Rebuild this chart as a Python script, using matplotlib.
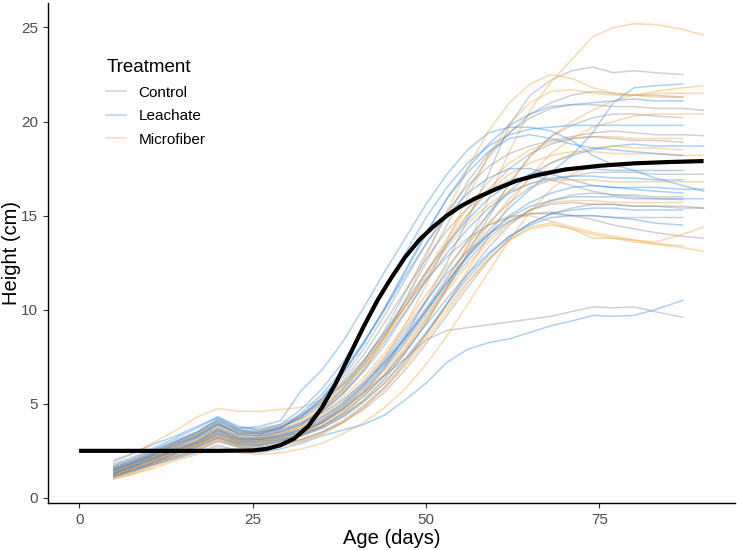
import matplotlib
matplotlib.use("Agg")
import matplotlib.pyplot as plt
from matplotlib.lines import Line2D

plt.rcParams['font.family'] = ['Liberation Sans', 'DejaVu Sans']

# measurement days (series of 28 values stop at day 87, 29 values at day 90)
days = [5, 8, 11, 14, 17, 20, 23, 26, 29, 32, 35, 38, 41, 44, 47, 50, 53, 56, 59,
        62, 65, 68, 71, 74, 77, 80, 83, 87, 90]

control = [
    [1.3, 1.7, 2.2, 2.5, 2.9, 3.5, 3.0, 3.1, 3.2, 3.5, 4.0, 4.7, 5.6, 6.9, 8.6, 10.5, 12.5, 14.8, 17.2, 19.8, 21.4, 22.2, 22.7, 22.9, 22.6, 22.7, 22.6, 22.5],
    [1.5, 1.9, 2.3, 2.9, 3.2, 3.9, 3.4, 3.3, 3.6, 4.0, 4.7, 5.7, 7.0, 8.6, 10.5, 12.5, 14.5, 16.4, 18.1, 19.4, 20.4, 21.0, 21.4, 21.6, 21.5, 21.4, 21.4, 21.3],
    [1.2, 1.6, 1.9, 2.4, 2.8, 3.3, 2.9, 3.0, 3.1, 3.3, 3.8, 4.4, 5.2, 6.3, 7.7, 9.3, 11.1, 13.0, 14.9, 16.7, 18.2, 19.2, 19.8, 20.2, 20.4, 20.4, 20.3, 20.2],
    [1.6, 2.0, 2.4, 3.0, 3.4, 4.1, 3.6, 3.6, 3.8, 4.3, 5.2, 6.4, 7.9, 9.7, 11.6, 13.5, 15.2, 16.6, 17.6, 18.3, 18.7, 19.0, 19.2, 19.4, 19.5, 19.4, 19.3, 19.3, 19.25],
    [1.4, 1.8, 2.2, 2.5, 3.0, 3.6, 3.2, 3.1, 3.4, 3.7, 4.3, 5.0, 6.0, 7.2, 8.6, 10.1, 11.7, 13.2, 14.6, 15.7, 16.5, 16.9, 17.1, 17.3, 17.3, 17.3, 17.2, 17.2, 17.2],
    [1.5, 1.9, 2.4, 2.9, 3.3, 3.9, 3.5, 3.4, 3.7, 4.3, 5.1, 6.2, 7.6, 9.3, 11.0, 12.7, 14.2, 15.4, 16.3, 16.9, 17.1, 16.9, 16.6, 16.3, 16.1, 16.0, 15.9, 15.85],
    [1.3, 1.7, 2.1, 2.6, 2.9, 3.4, 3.1, 3.0, 3.2, 3.5, 4.0, 4.7, 5.6, 6.8, 8.2, 9.7, 11.2, 12.6, 13.8, 14.7, 15.3, 15.6, 15.7, 15.6, 15.6, 15.5, 15.5, 15.5, 15.4],
    [1.2, 1.5, 1.9, 2.2, 2.6, 3.1, 2.8, 2.7, 2.8, 3.1, 3.5, 4.0, 4.7, 5.6, 6.8, 8.2, 9.7, 11.2, 12.6, 13.8, 14.6, 15.1, 15.4, 15.6, 15.6, 15.5, 15.5, 15.4, 15.4],
    [1.4, 1.8, 2.2, 2.7, 3.1, 3.7, 3.2, 3.2, 3.3, 3.7, 4.3, 5.1, 6.2, 7.5, 9.0, 10.5, 11.9, 13.1, 14.0, 14.7, 15.1, 15.2, 15.0, 14.8, 14.5, 14.3, 14.1, 13.9, 13.8],
    [1.3, 1.6, 2.0, 2.4, 2.7, 3.2, 2.9, 2.8, 3.0, 3.4, 4.0, 4.7, 5.6, 6.5, 7.4, 8.4, 8.9, 9.05, 9.2, 9.35, 9.5, 9.65, 9.9, 10.15, 10.1, 10.15, 9.9, 9.6],
    [1.5, 1.9, 2.3, 2.7, 3.2, 3.7, 3.3, 3.3, 3.5, 3.9, 4.6, 5.5, 6.7, 8.1, 9.8, 11.6, 13.4, 15.0, 16.4, 17.5, 18.3, 18.8, 19.1, 19.2, 19.1, 19.0, 19.0, 18.9],
    [1.1, 1.4, 1.8, 2.2, 2.5, 3.0, 2.7, 2.7, 2.9, 3.1, 3.5, 4.1, 4.9, 5.9, 7.2, 8.7, 10.3, 11.9, 13.3, 14.5, 15.3, 15.8, 16.1, 16.2, 16.1, 16.1, 16.0, 16.0],
    [1.7, 2.1, 2.6, 3.1, 3.5, 4.2, 3.7, 3.7, 3.9, 4.4, 5.1, 6.1, 7.3, 8.7, 10.2, 11.6, 12.8, 13.8, 14.5, 14.9, 15.1, 15.1, 15.0, 15.0, 14.9, 14.9, 14.9, 14.9],
    [1.3, 1.7, 2.1, 2.6, 3.0, 3.6, 3.1, 3.2, 3.5, 3.9, 4.7, 5.8, 7.2, 8.9, 10.9, 13.0, 15.0, 16.8, 18.3, 19.4, 20.2, 20.7, 20.9, 20.9, 20.8, 20.8, 20.7, 20.7, 20.6],
]

leachate = [
    [1.6, 2.0, 2.5, 3.0, 3.5, 4.2, 3.6, 3.4, 3.6, 4.0, 4.5, 5.2, 6.1, 7.2, 8.5, 9.9, 11.4, 12.9, 14.2, 15.4, 16.4, 17.3, 18.2, 19.4, 21.0, 21.8, 21.9, 22.0],
    [1.4, 1.8, 2.3, 2.8, 3.3, 4.0, 3.4, 3.5, 3.7, 4.4, 5.3, 6.6, 8.2, 10.0, 12.0, 14.0, 15.9, 17.5, 18.8, 19.8, 20.4, 20.8, 20.9, 21.0, 21.1, 21.2, 21.1, 21.1],
    [1.8, 2.2, 2.7, 3.2, 3.7, 4.3, 3.8, 3.6, 3.9, 4.7, 5.8, 7.2, 9.0, 11.0, 13.0, 14.9, 16.5, 17.8, 18.7, 19.3, 19.6, 19.7, 19.8, 19.8, 19.8, 19.8, 19.8, 19.8],
    [1.3, 1.7, 2.1, 2.5, 2.9, 3.5, 3.1, 3.1, 3.3, 3.6, 4.2, 5.0, 6.0, 7.3, 8.8, 10.4, 12.1, 13.7, 15.1, 16.3, 17.2, 17.8, 18.2, 18.5, 18.7, 18.8, 18.7, 18.7, 18.7],
    [2.0, 2.4, 2.9, 3.3, 3.8, 4.3, 3.7, 3.8, 4.1, 5.7, 6.8, 8.3, 10.1, 12.0, 13.8, 15.6, 17.2, 18.5, 19.4, 19.7, 19.7, 19.5, 19.0, 18.2, 17.7, 17.4, 17.0, 16.6, 16.3],
    [1.5, 1.9, 2.3, 2.7, 3.2, 3.8, 3.3, 3.3, 3.5, 3.9, 4.6, 5.6, 6.8, 8.3, 9.9, 11.5, 13.0, 14.3, 15.4, 16.2, 16.7, 17.0, 17.1, 17.1, 17.0, 17.0, 16.9, 16.9],
    [1.2, 1.6, 2.0, 2.4, 2.8, 3.4, 3.0, 3.0, 3.2, 3.5, 4.0, 4.8, 5.8, 7.0, 8.4, 9.9, 11.4, 12.8, 14.0, 15.0, 15.7, 16.2, 16.5, 16.6, 16.5, 16.5, 16.5, 16.4, 16.4],
    [1.6, 2.0, 2.5, 2.9, 3.4, 4.0, 3.5, 3.5, 3.7, 4.5, 5.5, 6.8, 8.3, 10.0, 11.8, 13.5, 15.0, 16.2, 17.0, 17.5, 17.5, 17.2, 16.9, 16.6, 16.5, 16.4, 16.3, 16.2],
    [1.4, 1.8, 2.2, 2.6, 3.0, 3.6, 3.2, 3.1, 3.3, 3.6, 4.1, 4.9, 5.9, 7.1, 8.5, 10.0, 11.5, 12.9, 14.0, 14.9, 15.5, 15.8, 16.0, 16.0, 16.0, 15.9, 15.9, 15.9, 15.9],
    [1.3, 1.7, 2.1, 2.5, 2.9, 3.4, 3.0, 2.9, 3.1, 3.4, 3.8, 4.5, 5.4, 6.5, 7.8, 9.2, 10.6, 11.9, 13.0, 13.9, 14.5, 14.9, 15.0, 15.0, 14.9, 14.8, 14.6, 14.5],
    [1.2, 1.5, 1.8, 2.1, 2.4, 2.8, 2.5, 2.4, 2.6, 2.9, 3.3, 3.6, 3.9, 4.4, 5.2, 6.1, 7.2, 7.9, 8.25, 8.45, 8.8, 9.15, 9.4, 9.7, 9.65, 9.7, 10.0, 10.5],
    [1.7, 2.1, 2.6, 3.0, 3.5, 4.1, 3.6, 3.5, 3.8, 4.2, 5.0, 6.0, 7.3, 8.8, 10.4, 12.0, 13.5, 14.8, 15.9, 16.7, 17.2, 17.4, 17.5, 17.5, 17.4, 17.4, 17.4, 17.4],
    [1.1, 1.5, 1.9, 2.3, 2.7, 3.2, 2.8, 2.8, 3.0, 3.3, 3.7, 4.3, 5.1, 6.1, 7.4, 8.8, 10.3, 11.7, 12.9, 13.9, 14.6, 15.1, 15.3, 15.4, 15.4, 15.3, 15.3, 15.3],
    [1.5, 1.9, 2.4, 2.8, 3.3, 3.9, 3.4, 3.4, 3.7, 4.3, 5.3, 6.6, 8.2, 10.1, 12.1, 14.1, 15.9, 17.3, 18.4, 19.1, 19.3, 19.1, 18.8, 18.6, 18.5, 18.4, 18.3, 18.2],
]

microfiber = [
    [1.2, 1.5, 1.9, 2.4, 2.8, 3.3, 2.9, 2.9, 3.1, 3.4, 3.8, 4.4, 5.2, 6.3, 7.7, 9.3, 11.2, 13.4, 15.9, 18.4, 20.6, 22.1, 23.3, 24.5, 25.0, 25.2, 25.15, 24.9, 24.6],
    [1.4, 1.8, 2.2, 2.6, 3.0, 3.6, 3.1, 3.1, 3.3, 3.6, 4.1, 4.8, 5.7, 6.9, 8.3, 9.9, 11.6, 13.4, 15.1, 16.7, 18.1, 19.2, 20.0, 20.6, 21.1, 21.4, 21.6, 21.8, 21.9],
    [1.3, 1.7, 2.1, 2.5, 3.0, 3.6, 3.1, 3.2, 3.4, 3.8, 4.5, 5.5, 6.8, 8.5, 10.5, 12.8, 15.2, 17.5, 19.5, 21.0, 22.0, 22.5, 22.3, 21.8, 21.5, 21.4, 21.5, 21.5, 21.5],
    [1.0, 1.3, 1.7, 2.1, 2.5, 3.0, 2.7, 2.6, 2.7, 3.0, 3.4, 4.0, 4.8, 5.8, 7.1, 8.6, 10.3, 12.1, 13.9, 15.6, 17.1, 18.3, 19.1, 19.7, 20.0, 20.3, 20.4, 20.4, 20.4],
    [1.5, 1.9, 2.4, 2.8, 3.3, 3.9, 3.4, 3.4, 3.7, 4.1, 4.8, 5.8, 7.0, 8.5, 10.2, 12.0, 13.8, 15.4, 16.8, 17.8, 18.5, 18.9, 19.1, 19.2, 19.2, 19.1, 19.1, 19.1],
    [1.1, 1.5, 1.9, 2.3, 2.7, 3.2, 2.8, 2.8, 3.0, 3.3, 3.8, 4.5, 5.4, 6.5, 7.9, 9.5, 11.2, 12.9, 14.5, 15.9, 17.0, 17.8, 18.3, 18.6, 18.7, 18.6, 18.6, 18.5],
    [1.9, 2.4, 3.0, 3.6, 4.3, 4.75, 4.6, 4.6, 4.7, 4.8, 5.2, 6.0, 7.1, 8.5, 10.1, 11.9, 13.6, 15.1, 16.3, 17.2, 17.8, 18.2, 18.4, 18.4, 18.3, 18.3, 18.3, 18.2, 18.2],
    [1.2, 1.6, 2.0, 2.4, 2.8, 3.3, 2.9, 2.9, 3.1, 3.4, 3.9, 4.6, 5.5, 6.6, 8.0, 9.5, 11.0, 12.4, 13.6, 14.6, 15.3, 15.7, 15.8, 15.8, 15.7, 15.7, 15.7, 15.7],
    [1.3, 1.6, 2.0, 2.4, 2.8, 3.3, 2.9, 2.8, 3.0, 3.3, 3.7, 4.3, 5.1, 6.1, 7.3, 8.7, 10.1, 11.5, 12.7, 13.7, 14.3, 14.5, 14.3, 13.8, 13.8, 13.7, 13.6, 14.0, 14.4],
    [1.1, 1.4, 1.8, 2.2, 2.6, 3.1, 2.7, 2.6, 2.8, 3.0, 3.4, 4.0, 4.8, 5.8, 7.0, 8.4, 9.9, 11.4, 12.7, 13.7, 14.4, 14.6, 14.3, 14.0, 13.8, 13.6, 13.5, 13.4],
    [1.4, 1.8, 2.2, 2.7, 3.1, 3.7, 3.2, 3.2, 3.4, 3.8, 4.4, 5.3, 6.4, 7.7, 9.2, 10.8, 12.3, 13.6, 14.5, 15.0, 15.0, 14.7, 14.4, 14.1, 13.9, 13.7, 13.5, 13.3, 13.1],
    [1.2, 1.6, 2.0, 2.5, 2.9, 3.4, 3.0, 3.0, 3.2, 3.5, 4.1, 4.9, 6.0, 7.4, 9.2, 11.3, 13.6, 16.0, 18.2, 19.9, 21.0, 21.6, 21.7, 21.5, 21.4, 21.4, 21.3, 21.3],
    [1.6, 2.0, 2.5, 2.9, 3.4, 4.0, 3.5, 3.5, 3.8, 4.2, 4.9, 5.9, 7.1, 8.6, 10.2, 11.8, 13.3, 14.6, 15.6, 16.3, 16.7, 16.9, 16.9, 16.9, 16.8, 16.8, 16.8, 16.8, 16.8],
    [1.0, 1.3, 1.6, 2.0, 2.3, 2.7, 2.4, 2.3, 2.4, 2.6, 2.9, 3.4, 4.0, 4.8, 5.8, 7.1, 8.6, 10.3, 12.0, 13.7, 15.2, 16.4, 17.2, 17.6, 17.8, 17.8, 17.8, 17.8],
]

# fitted growth curve
fit_days = [0, 5, 10, 15, 20, 25, 27, 29, 31, 33, 35, 37, 39, 41, 43, 45, 47, 49,
            51, 53, 55, 57, 60, 63, 66, 70, 75, 80, 85, 90]
fit_height = [2.5, 2.5, 2.5, 2.5, 2.5, 2.52, 2.6, 2.8, 3.15, 3.8, 4.8, 6.1, 7.6, 9.1,
              10.5, 11.7, 12.8, 13.7, 14.4, 15.0, 15.5, 15.9, 16.4, 16.85, 17.15,
              17.45, 17.65, 17.78, 17.85, 17.9]

treatments = ['Control', 'Leachate', 'Microfiber']
colors = {'Control': '#8c8c8c', 'Leachate': '#2e8bef', 'Microfiber': '#f7a035'}
groups = {'Control': control, 'Leachate': leachate, 'Microfiber': microfiber}

fig = plt.figure(figsize=(7.37, 5.5), dpi=100)
ax = fig.add_axes([0.065, 0.0855, 0.932, 0.909])

# interleave plants so no treatment sits fully on top
n = max(len(g) for g in groups.values())
for i in range(n):
    for t in treatments:
        if i < len(groups[t]):
            h = groups[t][i]
            ax.plot(days[:len(h)], h, color=colors[t], alpha=0.4, lw=1.1,
                    solid_joinstyle='round')

ax.plot(fit_days, fit_height, color='black', lw=3.0, solid_capstyle='butt')

ax.set_xlim(-4.5, 94.5)
ax.set_ylim(-0.27, 26.3)
ax.set_xticks([0, 25, 50, 75])
ax.set_yticks([0, 5, 10, 15, 20, 25])
ax.tick_params(axis='both', colors='#333333', labelcolor='#4d4d4d',
               labelsize=11, length=3.5, width=0.8)
for s in ['top', 'right']:
    ax.spines[s].set_visible(False)
for s in ['left', 'bottom']:
    ax.spines[s].set_linewidth(1.0)
    ax.spines[s].set_color('black')

ax.set_xlabel('Age (days)', fontsize=14.5, labelpad=2)
ax.set_ylabel('Height (cm)', fontsize=14.5)
ax.yaxis.set_label_coords(-0.039, 0.5)

handles = [Line2D([0], [0], color=colors[t], alpha=0.4, lw=1.1) for t in treatments]
leg = ax.legend(handles, treatments, title='Treatment', loc='upper left',
                bbox_to_anchor=(0.065, 0.915), frameon=False, fontsize=11,
                title_fontsize=13.5, handlelength=1.3, handletextpad=0.8,
                labelspacing=0.62, alignment='left')

fig.savefig('out.png', dpi=100)
